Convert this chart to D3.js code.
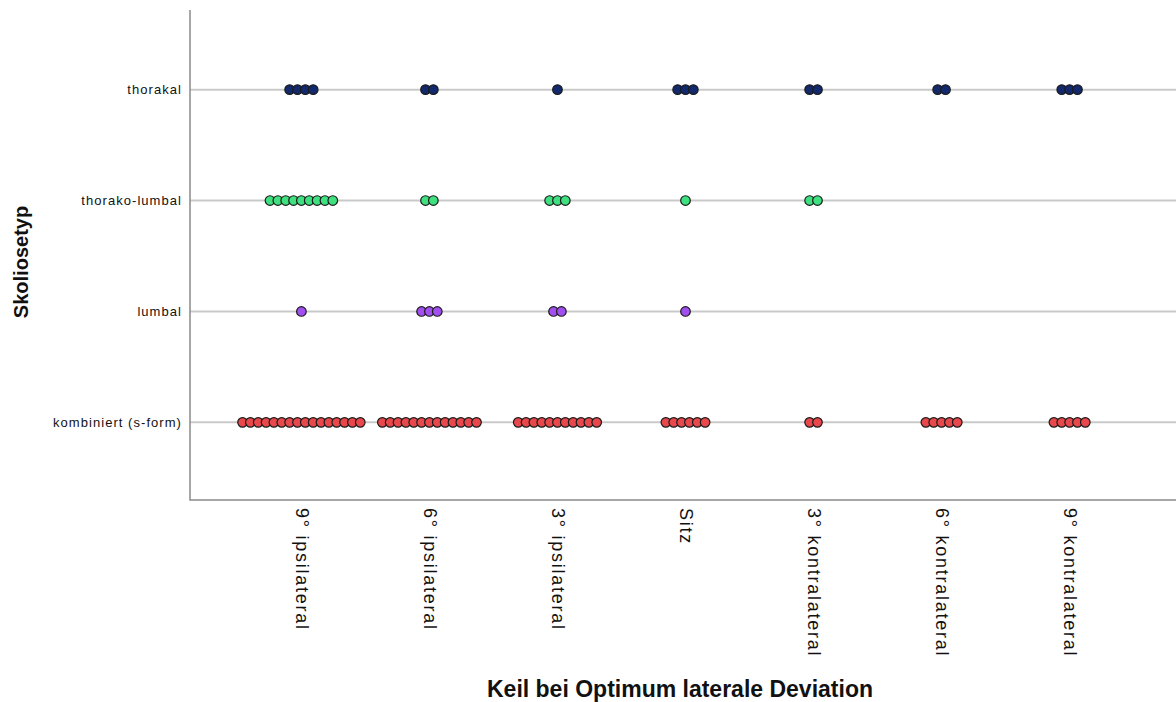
<!DOCTYPE html>
<html>
<head>
<meta charset="utf-8">
<script src="https://cdn.jsdelivr.net/npm/d3@7"></script>
<style>
  body { margin: 0; background: #fff; }
  text { font-family: "Liberation Sans", Arial, sans-serif; fill: #111; }
</style>
</head>
<body>
<div id="chart"></div>
<script>
// Kategorien (x) und Skoliosetypen (y)
var keile = ["9° ipsilateral", "6° ipsilateral", "3° ipsilateral", "Sitz",
             "3° kontralateral", "6° kontralateral", "9° kontralateral"];
var typen = ["thorakal", "thorako-lumbal", "lumbal", "kombiniert (s-form)"];

// Anzahl Fälle je Keil, pro Typ
var thorakal      = [4, 2, 1, 3, 2, 2, 3];
var thorakoLumbal = [9, 2, 3, 1, 2, 0, 0];
var lumbal        = [1, 3, 2, 1, 0, 0, 0];
var kombiniert    = [16, 13, 11, 6, 2, 5, 5];

var farben = ["#13296e", "#3fe07f", "#a24ff0", "#e8474b"];

var counts = [thorakal, thorakoLumbal, lumbal, kombiniert];

var W = 1176, H = 702;
var plot = { left: 190, right: 1176, top: 10, bottom: 500 };

var svg = d3.select("#chart").append("svg")
  .attr("width", W)
  .attr("height", H);

var x = d3.scalePoint()
  .domain(keile)
  .range([plot.left, 1181])
  .padding(0.87);

var y = d3.scalePoint()
  .domain(typen)
  .range([plot.top + 2, plot.bottom])
  .padding(0.7);

// Abstand der Punkte innerhalb einer Gruppe
var dotStep = 7.85, dotR = 4.8;

// Gitterlinien
svg.append("g")
  .selectAll("line")
  .data(typen).enter()
  .append("line")
    .attr("x1", plot.left)
    .attr("x2", plot.right)
    .attr("y1", function(d) { return y(d); })
    .attr("y2", function(d) { return y(d); })
    .style("stroke", "#c9c9c9")
    .style("stroke-width", 2);

// Achsen
var yAxis = svg.append("g")
  .attr("transform", "translate(" + plot.left + ",0)")
  .call(d3.axisLeft(y).tickSize(0).tickPadding(8));
yAxis.select(".domain").remove();
yAxis.selectAll("text")
  .style("font-size", "13px")
  .style("letter-spacing", "1.05px");

var xAxis = svg.append("g")
  .attr("transform", "translate(0," + plot.bottom + ")")
  .call(d3.axisBottom(x).tickSize(0).tickPadding(0));
xAxis.select(".domain").remove();
xAxis.selectAll("text")
  .attr("transform", "rotate(90)")
  .attr("x", 8)
  .attr("y", 0)
  .attr("dy", "0.35em")
  .style("text-anchor", "start")
  .style("font-size", "18px")
  .style("letter-spacing", "1.75px");

svg.append("path")
  .attr("d", "M" + plot.left + "," + plot.top + "V" + plot.bottom + "H" + plot.right)
  .style("fill", "none")
  .style("stroke", "#8a8a8a")
  .style("stroke-width", 1.5);

// Punkte
typen.forEach(function(t, ti) {
  var pts = [];
  keile.forEach(function(k, ki) {
    var n = counts[ti][ki];
    for (var i = 0; i < n; i++) {
      pts.push({ k: k, off: (i - (n - 1) / 2) * dotStep });
    }
  });
  svg.append("g")
    .selectAll("circle")
    .data(pts).enter()
    .append("circle")
      .attr("cx", function(d) { return x(d.k) + d.off; })
      .attr("cy", y(t))
      .attr("r", dotR)
      .style("fill", farben[ti])
      .style("stroke", "#1b1b1b")
      .style("stroke-width", 1.2);
});

// Achsentitel
svg.append("text")
  .attr("transform", "translate(28,262) rotate(-90)")
  .style("text-anchor", "middle")
  .style("font-size", "20px")
  .style("font-weight", "bold")
  .text("Skoliosetyp");

svg.append("text")
  .attr("x", 680)
  .attr("y", 697)
  .style("text-anchor", "middle")
  .style("font-size", "23px")
  .style("font-weight", "bold")
  .text("Keil bei Optimum laterale Deviation");
</script>
</body>
</html>
